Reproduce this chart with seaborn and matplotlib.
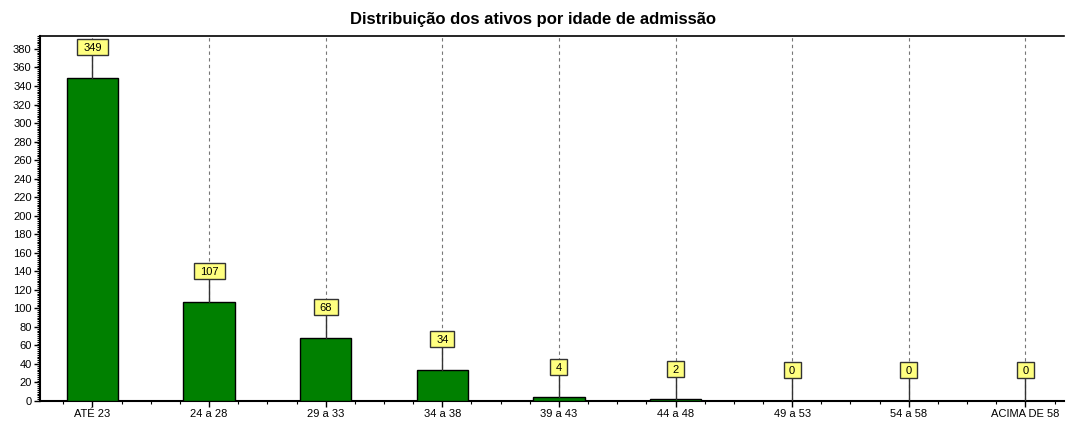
import numpy as np
import pandas as pd
import matplotlib
matplotlib.use("Agg")
import matplotlib.pyplot as plt
from matplotlib.patches import Rectangle
from matplotlib.transforms import ScaledTranslation
from matplotlib.ticker import MultipleLocator
import seaborn as sns

categorias = ["ATÉ 23", "24 a 28", "29 a 33", "34 a 38", "39 a 43",
              "44 a 48", "49 a 53", "54 a 58", "ACIMA DE 58"]
ativos = [349, 107, 68, 34, 4, 2, 0, 0, 0]

df = pd.DataFrame({"faixa": categorias, "ativos": ativos})

sns.set_style("white")
plt.rcParams["font.family"] = ["Liberation Sans", "DejaVu Sans"]
plt.rcParams["text.color"] = "black"
plt.rcParams["xtick.color"] = "black"
plt.rcParams["ytick.color"] = "black"

fig = plt.figure(figsize=(10.66, 4.23), dpi=100)
ax = fig.add_axes([0.0375, 0.052, 0.9605, 0.863])

sns.barplot(data=df, x="faixa", y="ativos", color="#008000", saturation=1,
            width=0.44, edgecolor="black", linewidth=1, ax=ax, zorder=3)

ax.set_xlim(-0.45, 8.33)
ax.set_ylim(0, 394)
ax.yaxis.set_major_locator(MultipleLocator(20))
ax.yaxis.set_minor_locator(MultipleLocator(2))
ax.xaxis.set_minor_locator(MultipleLocator(0.25))
ax.tick_params(axis="both", which="major", length=4, width=1, labelsize=8,
               direction="out", colors="black", pad=2)
ax.tick_params(axis="both", which="minor", length=2, width=0.8, direction="out")
ax.tick_params(axis="x", which="both", bottom=True)
ax.tick_params(axis="y", which="both", left=True)
ax.set_xlabel("")
ax.set_ylabel("")

for side in ["left", "bottom"]:
    ax.spines[side].set_linewidth(1.5)
    ax.spines[side].set_color("black")
ax.spines["top"].set_linewidth(1.2)
ax.spines["top"].set_color("black")
ax.spines["right"].set_visible(False)

# linhas verticais tracejadas
for i in range(len(categorias)):
    ax.axvline(i, color="#777777", linestyle=(0, (3, 3)), linewidth=0.8, zorder=1)

# rótulos com linha de chamada e caixa amarela
for i, v in enumerate(ativos):
    top = v + 33
    ax.plot([i, i], [v, top], color="#333333", linewidth=1, zorder=4)
    w = (len(str(v)) * 7 + 10) / 100
    h = 0.16
    tr = fig.dpi_scale_trans + ScaledTranslation(i, top, ax.transData)
    ax.add_patch(Rectangle((-w / 2, -h / 2), w, h, transform=tr,
                           facecolor="#FFFF80", edgecolor="#333333",
                           linewidth=1, zorder=5, clip_on=False))
    ax.text(i, top, str(v), ha="center", va="center_baseline", fontsize=8,
            zorder=6)

fig.text(0.5, 0.955, "Distribuição dos ativos por idade de admissão",
         ha="center", va="center", fontsize=12, fontweight="bold")

fig.savefig("out.png", dpi=100)
